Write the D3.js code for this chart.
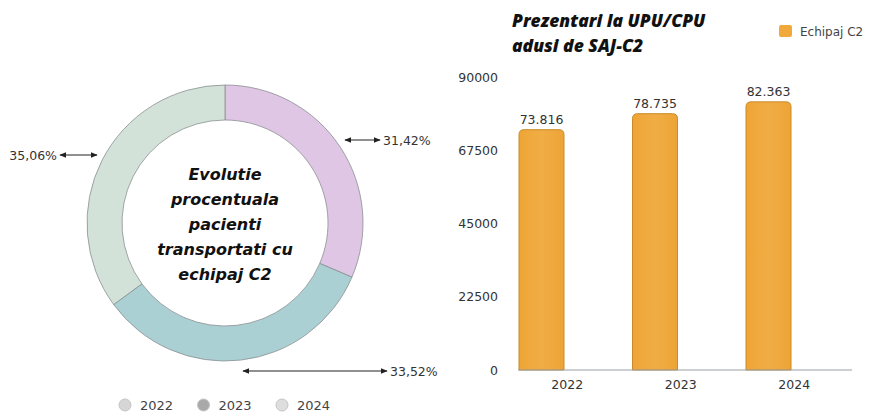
<!DOCTYPE html>
<html>
<head>
<meta charset="utf-8">
<script src="https://cdn.jsdelivr.net/npm/d3@7"></script>
<style>
  html, body { margin: 0; padding: 0; background: #fff; }
  svg { display: block; font-family: "Open Sans", "Noto Sans", sans-serif; }
</style>
</head>
<body>
<svg id="chart" width="875" height="416"></svg>
<script>
// Donut: share of patients transported by C2 crews, per year
const donutYears = ["2022", "2023", "2024"];
const donutShares = [31.42, 33.52, 35.06];
const donutColors = ["#dfc6e5", "#abd0d3", "#d2e2d9"];
const legendDotColors = ["#d6d6d6", "#a9a9a9", "#dedede"];

// Bars: presentations at UPU/CPU brought by SAJ-C2
const barYears = ["2022", "2023", "2024"];
const barValues = [73816, 78735, 82363];
const yTicks = [0, 22500, 45000, 67500, 90000];
const barSeriesName = "Echipaj C2";

const numFont = "'DejaVu Sans', sans-serif";
const svg = d3.select("#chart");

const defs = svg.append("defs");
const mk = (id, orient) => defs.append("marker")
  .attr("id", id).attr("viewBox", "0 0 10 10").attr("refX", 9).attr("refY", 5)
  .attr("markerWidth", 6).attr("markerHeight", 6).attr("orient", orient)
  .append("path").attr("d", "M0,1L10,5L0,9Z").attr("fill", "#222");
mk("arrowEnd", "auto");
mk("arrowStart", "auto-start-reverse");

const barGrad = defs.append("linearGradient").attr("id", "barGrad")
  .attr("x1", 0).attr("x2", 1).attr("y1", 0).attr("y2", 0);
barGrad.append("stop").attr("offset", "0%").attr("stop-color", "#efa535");
barGrad.append("stop").attr("offset", "50%").attr("stop-color", "#f0ad45");
barGrad.append("stop").attr("offset", "100%").attr("stop-color", "#eda436");

// ---------- donut ----------
const cx = 225, cy = 223, rOuter = 138, rInner = 103;
const pie = d3.pie().sort(null).value(d => d)(donutShares);
const arc = d3.arc().innerRadius(rInner).outerRadius(rOuter);
const donut = svg.append("g").attr("transform", `translate(${cx},${cy})`);
donut.selectAll("path.seg").data(pie).join("path")
  .attr("class", "seg")
  .attr("d", arc)
  .attr("fill", (d, i) => donutColors[i])
  .attr("stroke", "#8a8f92").attr("stroke-width", 0.8);

// segment value callouts
const fmtPct = v => v.toFixed(2).replace(".", ",") + "%";
const callouts = [
  { x1: 345, x2: 380, y: 140, tx: 383, anchor: "start" },
  { x1: 243, x2: 387, y: 371, tx: 390, anchor: "start" },
  { x1: 97, x2: 60, y: 155, tx: 57, anchor: "end" }
];
callouts.forEach((c, i) => {
  svg.append("line")
    .attr("x1", c.x1).attr("x2", c.x2).attr("y1", c.y).attr("y2", c.y)
    .attr("stroke", "#222").attr("stroke-width", 1.2)
    .attr("marker-start", "url(#arrowStart)").attr("marker-end", "url(#arrowEnd)");
  svg.append("text")
    .attr("x", c.tx).attr("y", c.y + 4.5)
    .attr("text-anchor", c.anchor)
    .attr("font-size", 12.5).attr("fill", "#333")
    .style("font-family", numFont)
    .text(fmtPct(donutShares[i]));
});

// centre title
const centreLines = ["Evolutie", "procentuala", "pacienti", "transportati cu", "echipaj C2"];
svg.append("g").selectAll("text").data(centreLines).join("text")
  .attr("x", cx).attr("y", (d, i) => 180 + i * 25)
  .attr("text-anchor", "middle")
  .attr("font-size", 16).attr("font-weight", "bold").attr("font-style", "italic")
  .attr("fill", "#111")
  .style("font-family", numFont)
  .text(d => d);

// donut legend
const dl = svg.append("g");
donutYears.forEach((y, i) => {
  const lx = 125 + i * 78.5;
  dl.append("circle").attr("cx", lx).attr("cy", 405).attr("r", 6)
    .attr("fill", legendDotColors[i]).attr("stroke", "#c4c4c4").attr("stroke-width", 1);
  dl.append("text").attr("x", lx + 15).attr("y", 410)
    .attr("font-size", 13).attr("fill", "#444")
    .style("font-family", numFont).text(y);
});

// ---------- bar chart ----------
const y = d3.scaleLinear().domain([0, 90000]).range([370, 77]);
const x = d3.scaleBand().domain(barYears).range([510.5, 851]).paddingInner(0);
const barW = 45, barOffset = 8.5;

svg.append("text").attr("x", 512).attr("y", 27)
  .attr("font-size", 17.5).attr("font-weight", 800).attr("font-style", "italic")
  .attr("fill", "#111").text("Prezentari la UPU/CPU");
svg.append("text").attr("x", 512).attr("y", 52)
  .attr("font-size", 17.5).attr("font-weight", 800).attr("font-style", "italic")
  .attr("fill", "#111").text("adusi de SAJ-C2");

// legend
svg.append("rect").attr("x", 779).attr("y", 25).attr("width", 13).attr("height", 12)
  .attr("rx", 2).attr("fill", "#f0a93a");
svg.append("text").attr("x", 800).attr("y", 36)
  .attr("font-size", 12).attr("fill", "#444")
  .style("font-family", numFont).text(barSeriesName);

// y axis labels
const yAxis = d3.axisLeft(y).tickValues(yTicks).tickSize(0).tickPadding(0)
  .tickFormat(d3.format("d"));
const yg = svg.append("g").attr("transform", "translate(498,0)").call(yAxis);
yg.select(".domain").remove();
yg.selectAll("text").attr("font-size", 12.5).attr("fill", "#333")
  .style("font-family", numFont);

// bars with rounded tops
const bars = svg.append("g");
barValues.forEach((v, i) => {
  const bx = x(barYears[i]) + barOffset, top = y(v), base = y(0), r = 5;
  const p = d3.path();
  p.moveTo(bx, base);
  p.lineTo(bx, top + r);
  p.quadraticCurveTo(bx, top, bx + r, top);
  p.lineTo(bx + barW - r, top);
  p.quadraticCurveTo(bx + barW, top, bx + barW, top + r);
  p.lineTo(bx + barW, base);
  p.closePath();
  bars.append("path").attr("d", p.toString())
    .attr("fill", "url(#barGrad)").attr("stroke", "#c98a2a").attr("stroke-width", 1);
  bars.append("text").attr("x", bx + barW / 2).attr("y", top - 6)
    .attr("text-anchor", "middle").attr("font-size", 12.5).attr("fill", "#333")
    .style("font-family", numFont)
    .text(d3.format(",")(v).replace(/,/g, "."));
});

// baseline
svg.append("line").attr("x1", 518).attr("x2", 852).attr("y1", y(0)).attr("y2", y(0))
  .attr("stroke", "#9aa0a6").attr("stroke-width", 1.2);

// x axis labels
const xAxis = d3.axisBottom(x).tickSize(0).tickPadding(0);
const xg = svg.append("g").attr("transform", `translate(0,${y(0) + 10})`).call(xAxis);
xg.select(".domain").remove();
xg.selectAll("text").attr("font-size", 12.5).attr("fill", "#333")
  .style("font-family", numFont);
</script>
</body>
</html>
